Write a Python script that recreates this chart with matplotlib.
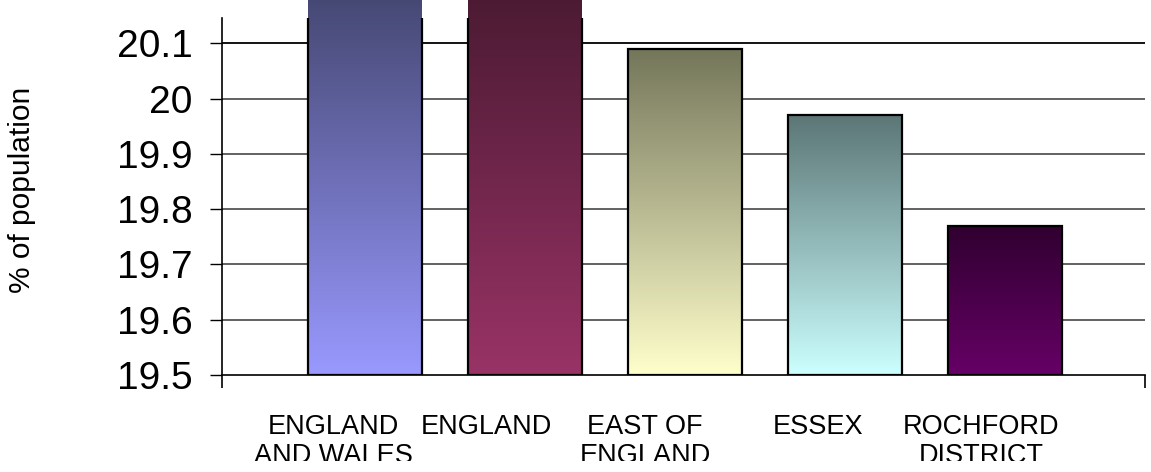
import matplotlib
matplotlib.use("Agg")
import matplotlib.pyplot as plt
import numpy as np
from matplotlib.colors import to_rgb
from matplotlib.transforms import Bbox, TransformedBbox

plt.rcParams['font.family'] = ['Liberation Sans', 'DejaVu Sans']

# data
areas = ["ENGLAND\nAND WALES", "ENGLAND", "EAST OF\nENGLAND", "ESSEX", "ROCHFORD\nDISTRICT"]
pct = [20.20, 20.20, 20.09, 19.97, 19.77]
yticks = [19.5, 19.6, 19.7, 19.8, 19.9, 20.0, 20.1]
ytick_labels = ["19.5", "19.6", "19.7", "19.8", "19.9", "20", "20.1"]

# gradient colours (bottom, top) per bar
light = ["#9999ff", "#993366", "#ffffcc", "#ccffff", "#660066"]
dark = ["#444670", "#4a1a32", "#74765a", "#5c7676", "#300030"]
# label x nudges (category units)
label_shift = [-0.20, -0.24, -0.25, -0.17, -0.15]

fig = plt.figure(figsize=(11.51, 4.72), dpi=100)
ax = fig.add_axes([222/1151, 1 - 375/472, (1145 - 222)/1151, (375 - 18)/472])

x = np.arange(len(pct))
w = 0.71
bars = ax.bar(x, [v - 19.5 for v in pct], bottom=19.5, width=w,
              facecolor="none", edgecolor="black", linewidth=1.6, zorder=3)

for b, v, c0, c1 in zip(bars, pct, light, dark):
    t = np.linspace(0, 1, 256)[:, None]
    g = (1 - t) * np.array(to_rgb(c0)) + t * np.array(to_rgb(c1))
    g = g[:, None, :]
    im = ax.imshow(g, extent=[b.get_x(), b.get_x() + w, 19.5, v],
                   origin="lower", aspect="auto", interpolation="bilinear", zorder=2)
    im.set_clip_path(b)

ax.set_xlim(-0.894, 4.875)
ax.set_ylim(19.5, 20.146)

ax.set_yticks(yticks)
ax.set_yticklabels(ytick_labels, fontsize=28)
ax.tick_params(axis="y", length=9, width=1, pad=12, direction="out", colors="black")
for yv in yticks[1:]:
    ax.axhline(yv, color="black" if yv == 20.1 else "#555555", lw=1.3, zorder=1)

ax.set_xticks([-0.894, 4.875])
ax.set_xticklabels(["", ""])
ax.tick_params(axis="x", length=9, width=1.2, direction="out")

for s in ["top", "right"]:
    ax.spines[s].set_visible(False)
ax.spines["left"].set_linewidth(1.2)
ax.spines["bottom"].set_linewidth(1.2)

fig.text(22/1151, 1 - 190/472, "% of population", rotation=90,
         ha="center", va="center", fontsize=21.5)

clip = TransformedBbox(Bbox([[0, 11/472], [1, 1]]), fig.transFigure)
for xi, name, dx in zip(x, areas, label_shift):
    t = ax.text(xi + dx, -0.11, name, transform=ax.get_xaxis_transform(),
                ha="center", va="top", fontsize=19.5, linespacing=1.15)
    t.set_clip_on(True)
    t.set_clip_box(clip)

fig.savefig("out.png", dpi=100)
